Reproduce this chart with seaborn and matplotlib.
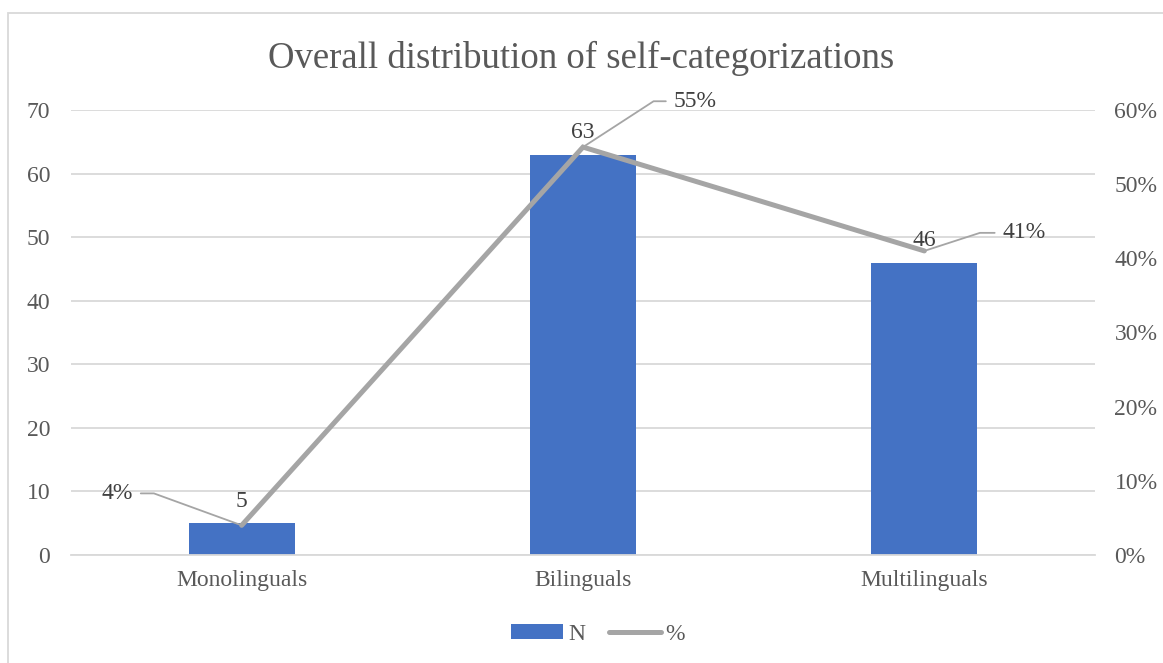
import matplotlib
matplotlib.use("Agg")
import matplotlib.pyplot as plt
import seaborn as sns
import pandas as pd
from matplotlib.patches import Rectangle, Patch
from matplotlib.lines import Line2D

categories = ["Monolinguals", "Bilinguals", "Multilinguals"]
counts = [5, 63, 46]
percents = [0.04, 0.55, 0.41]
pct_labels = ["4%", "55%", "41%"]
left_ticks = [0, 10, 20, 30, 40, 50, 60, 70]
right_ticks = [0, 0.1, 0.2, 0.3, 0.4, 0.5, 0.6]
right_tick_labels = ["0%", "10%", "20%", "30%", "40%", "50%", "60%"]

sns.set_theme(style="white")
plt.rcParams["font.family"] = ["Liberation Serif", "DejaVu Serif"]

BLUE = "#4472c4"
GRAY = "#a5a5a5"
TXT = "#595959"
GRID = "#d9d9d9"
FS = 17

fig = plt.figure(figsize=(11.63, 6.63), dpi=100)
ax = fig.add_axes([71/1163, 1-555/663, (1095-71)/1163, (555-110)/663])

df = pd.DataFrame({"cat": categories, "N": counts, "pct": percents})
sns.barplot(data=df, x="cat", y="N", color=BLUE, width=0.31, saturation=1,
            linewidth=0, ax=ax)
ax.set_ylim(0, 70)
ax.set_yticks(left_ticks)
ax.set_xlim(-0.5, 2.5)
ax.grid(axis="y", color=GRID, linewidth=1.3)
ax.set_axisbelow(True)
for s in ["top", "right", "left"]:
    ax.spines[s].set_visible(False)
ax.spines["bottom"].set_color(GRID)
ax.spines["bottom"].set_linewidth(1.3)
ax.set_xlabel("")
ax.set_ylabel("")
ax.tick_params(axis="both", length=0, labelsize=FS, colors=TXT)
ax.tick_params(axis="y", pad=15)
ax.tick_params(axis="x", pad=11)

for i, v in enumerate(counts):
    ax.annotate(str(v), xy=(i, v), xytext=(0, 8), textcoords="offset points",
                ha="center", va="bottom", fontsize=FS, color="#404040")

ax2 = ax.twinx()
ax2.plot(range(len(categories)), percents, color=GRAY, linewidth=3.6,
         solid_joinstyle="miter", zorder=3)
ax2.set_ylim(0, 0.6)
ax2.set_yticks(right_ticks)
ax2.set_yticklabels(right_tick_labels)
ax2.tick_params(axis="y", length=0, labelsize=FS, colors=TXT, pad=14)
for s in ["top", "right", "left", "bottom"]:
    ax2.spines[s].set_visible(False)
ax2.set_xlim(-0.5, 2.5)

label_specs = [
    ((-78, 23), "right", (1, 0.5), 160),
    ((65, 33), "left", (0, 0.5), 33),
    ((56, 13), "left", (0, 0.5), 18),
]
for i, (p, lab) in enumerate(zip(percents, pct_labels)):
    off, ha, rel, ang = label_specs[i]
    ax2.annotate(lab, xy=(i, p), xytext=off, textcoords="offset points",
                 ha=ha, va="center", fontsize=FS, color="#404040",
                 arrowprops=dict(arrowstyle="-", color=GRAY, linewidth=1.3,
                                 relpos=rel, shrinkA=3, shrinkB=0,
                                 connectionstyle=f"angle,angleA=0,angleB={ang},rad=0"))

fig.suptitle("Overall distribution of self-categorizations", y=1-58/663, va="center",
             fontsize=26.5, color=TXT)

handles = [Patch(facecolor=BLUE, edgecolor="none"),
           Line2D([0], [0], color=GRAY, linewidth=3.6, solid_capstyle="round")]
fig.legend(handles, ["N", "%"], loc="center", bbox_to_anchor=(598/1163, 1-634/663),
           ncol=2, frameon=False, fontsize=FS, labelcolor=TXT,
           handlelength=2.2, handletextpad=0.2, columnspacing=1.0,
           handleheight=0.6)

fig.patches.append(Rectangle((8/1163, -0.1), 1.2, 1.1-13/663, transform=fig.transFigure,
                             fill=False, edgecolor=GRID, linewidth=1.3, zorder=0))

fig.savefig("out.png", dpi=100)
